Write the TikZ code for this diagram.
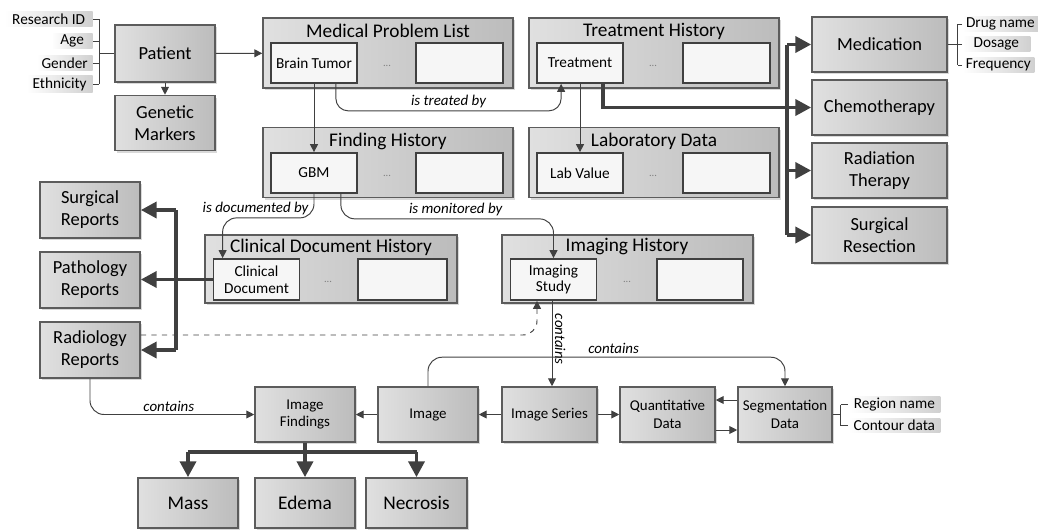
\documentclass[tikz,border=0pt]{standalone}
\usepackage{fontspec}
\setmainfont{Carlito}
\usepackage{xcolor}
\usepackage{tikz}
\usetikzlibrary{
  arrows.meta,
  positioning,
  calc,
  shadows
}
\definecolor{boxgray}{RGB}{188,188,188}
\definecolor{boxlight}{RGB}{224,224,224}
\definecolor{linegray}{RGB}{64,64,64}
\definecolor{edgegray}{RGB}{92,92,92}
\definecolor{attrgray}{RGB}{208,208,208}

\begin{document}
\begin{tikzpicture}[
  x=0.02cm, y=-0.02cm,
  entity/.style={rectangle, draw=edgegray, line width=0.9pt, left color=boxlight, right color=boxgray, drop shadow={opacity=0.3, shadow xshift=1.2pt, shadow yshift=-1.2pt}, align=center, font=\fontsize{10.5}{12.5}\selectfont, inner sep=1pt},
  lowentity/.style={entity, font=\fontsize{8.5}{10}\selectfont, minimum height=1.1cm},
  history/.style={entity, minimum width=5cm, minimum height=1.4cm},
  histtitle/.style={font=\fontsize{11}{12}\selectfont, inner sep=0pt},
  entrybox/.style={rectangle, draw=linegray, line width=1pt, fill=white!93!gray, minimum width=1.72cm, minimum height=0.8cm, align=center, font=\fontsize{8.7}{9.6}\selectfont, inner sep=1pt},
  ellip/.style={font=\fontsize{6}{6}\selectfont, text=gray, inner sep=0pt},
  attr/.style={rectangle, left color=white, right color=attrgray, font=\fontsize{8.7}{9.5}\selectfont, inner xsep=2pt, inner ysep=1pt, minimum height=0.27cm},
  rel/.style={font=\fontsize{8.5}{9.5}\selectfont\itshape, inner sep=1.5pt},
  link/.style={draw=linegray, line width=0.55pt, -{Triangle[length=4.5pt,width=4.5pt]}},
  bracket/.style={draw=linegray, line width=0.55pt},
  thickline/.style={draw=linegray, line width=2.2pt},
  thickarrow/.style={thickline, -{Triangle[length=9pt,width=9pt]}}
]
  \useasboundingbox (0,0) rectangle (1038,531);

  % patient and its attributes
  \node[entity, minimum width=2cm, minimum height=1.14cm] (patient) at (165,53.5) {Patient};
  \node[entity, minimum width=2cm, minimum height=1.1cm] (genetic) at (165,123) {Genetic\\Markers};
  \node[attr, anchor=east, minimum width=1.76cm, align=right] (rid) at (93,19) {Research ID};
  \node[attr, anchor=east, minimum width=0.82cm, align=right] (age) at (93,41) {\hfill Age};
  \node[attr, anchor=east, minimum width=1.12cm] (gender) at (93,63) {\hfill Gender};
  \node[attr, anchor=east, minimum width=1.32cm] (eth) at (93,84) {\hfill Ethnicity};
  \coordinate (pjoin) at ([xshift=-0.3cm]patient.west);
  \foreach \t in {rid,age,gender,eth}
    \draw[bracket] (\t.east) -- (\t.east -| pjoin);
  \draw[bracket] (rid.east -| pjoin) -- (eth.east -| pjoin);
  \draw[bracket, line width=1pt] (pjoin) -- (patient.west);

  % history containers
  \node[history] (mpl) at (388,53) {};
  \node[histtitle] (mpltitle) at (388,31) {Medical Problem List};
  \node[entrybox] (bt) at (314,63) {Brain Tumor};
  \node[ellip] (mpldots) at (387,66) {...};
  \node[entrybox, minimum width=1.74cm] (mplmore) at (459.5,63) {};

  \node[history] (th) at (654,53) {};
  \node[histtitle] (thtitle) at (654,31) {Treatment History};
  \node[entrybox] (trt) at (580,63) {Treatment};
  \node[ellip] (thdots) at (653,66) {...};
  \node[entrybox, minimum width=1.74cm] (thmore) at (726.5,63) {};

  \node[history] (fh) at (388,162.5) {};
  \node[histtitle] (fhtitle) at (388,141) {Finding History};
  \node[entrybox] (gbm) at (314,173) {GBM};
  \node[ellip] (fhdots) at (387,176) {...};
  \node[entrybox, minimum width=1.74cm] (fhmore) at (459.5,173) {};

  \node[history] (lab) at (654,162.5) {};
  \node[histtitle] (labtitle) at (654,141) {Laboratory Data};
  \node[entrybox] (labv) at (580,173) {Lab Value};
  \node[ellip] (labdots) at (653,176) {...};
  \node[entrybox, minimum width=1.74cm] (labmore) at (726.5,173) {};

  \node[history, minimum width=5.04cm, minimum height=1.36cm] (cdh) at (331,269) {};
  \node[histtitle] (cdhtitle) at (331,247) {Clinical Document History};
  \node[entrybox, minimum height=0.82cm] (cd) at (256.5,279.5) {Clinical\\Document};
  \node[ellip] (cdhdots) at (328,282) {...};
  \node[entrybox, minimum width=1.78cm, minimum height=0.82cm] (cdhmore) at (402.5,279.5) {};

  \node[history, minimum width=5.02cm, minimum height=1.36cm] (ih) at (627.5,269) {};
  \node[histtitle] (ihtitle) at (627,247) {Imaging History};
  \node[entrybox, minimum height=0.82cm] (ims) at (553.5,279.5) {Imaging\\Study};
  \node[ellip] (ihdots) at (627,282) {...};
  \node[entrybox, minimum width=1.72cm, minimum height=0.82cm] (ihmore) at (700,279.5) {};

  % treatments
  \node[entity, minimum width=2.7cm, minimum height=1.1cm] (med) at (879.5,44.5) {Medication};
  \node[entity, minimum width=2.7cm, minimum height=1.1cm] (chemo) at (879.5,107.5) {Chemotherapy};
  \node[entity, minimum width=2.7cm, minimum height=1.1cm] (radt) at (879.5,170.5) {Radiation\\Therapy};
  \node[entity, minimum width=2.7cm, minimum height=1.12cm] (sres) at (879.5,235) {Surgical\\Resection};
  \node[attr, anchor=west, minimum width=1.52cm, align=left] (drug) at (962,24) {Drug name};
  \node[attr, anchor=west, minimum width=1.36cm, align=left] (dose) at (962,44) {Dosage\hfill};
  \node[attr, anchor=west, minimum width=1.44cm, align=left] (freq) at (962,65) {Frequency\hfill};
  \coordinate (mjoin) at ([xshift=0.2cm]med.east);
  \foreach \t in {drug,dose,freq}
    \draw[bracket] (\t.west) -- (\t.west -| mjoin);
  \draw[bracket] (drug.west -| mjoin) -- (freq.west -| mjoin);
  \draw[bracket] (mjoin) -- (med.east);

  % reports
  \node[entity, minimum width=2cm, minimum height=1.12cm] (surg) at (90,210) {Surgical\\Reports};
  \node[entity, minimum width=2cm, minimum height=1.12cm] (patho) at (90,280) {Pathology\\Reports};
  \node[entity, minimum width=2cm, minimum height=1.12cm] (radr) at (90,350) {Radiology\\Reports};

  % image data
  \node[lowentity, minimum width=2cm] (imf) at (305,414.5) {Image\\Findings};
  \node[lowentity, minimum width=2cm] (img) at (428,414.5) {Image};
  \node[lowentity, minimum width=1.9cm] (iser) at (549.5,414.5) {Image Series};
  \node[lowentity, minimum width=1.9cm] (qd) at (667.5,414.5) {Quantitative\\Data};
  \node[lowentity, minimum width=1.88cm] (seg) at (785,414.5) {Segmentation\\Data};
  \node[attr, anchor=west, minimum width=1.84cm, align=left] (region) at (848,404.5) {Region name\hfill};
  \node[attr, anchor=west, minimum width=1.84cm, align=left] (contour) at (848,425.5) {Contour data\hfill};
  \coordinate (sjoin) at ([xshift=0.16cm]seg.east);
  \foreach \t in {region,contour}
    \draw[bracket] (\t.west) -- (\t.west -| sjoin);
  \draw[bracket] (region.west -| sjoin) -- (contour.west -| sjoin);
  \draw[bracket, line width=1pt] (sjoin) -- (seg.east);

  \node[entity, minimum width=2cm, minimum height=1cm, font=\fontsize{11}{12}\selectfont] (mass) at (188,503) {Mass};
  \node[entity, minimum width=2cm, minimum height=1cm, font=\fontsize{11}{12}\selectfont] (edema) at (305,503) {Edema};
  \node[entity, minimum width=2.02cm, minimum height=1cm, font=\fontsize{11}{12}\selectfont] (necr) at (416.5,503) {Necrosis};

  % thin connectors
  \draw[link] (patient) -- (mpl);
  \draw[link] (patient) -- (genetic);
  \draw[link] (bt) -- (gbm);
  \draw[link] (trt) -- (labv);
  \draw[link, rounded corners=7pt] ([xshift=-0.44cm]bt.south east) |- ([xshift=0.5cm,yshift=-0.54cm]trt.south west) node[rel, pos=0.75, above] {is treated by} -- ([xshift=0.5cm]trt.south west);
  \draw[link, rounded corners=8pt] (gbm.south) -- ++(0,24) -| ([xshift=0.2cm]cd.north west) node[rel, pos=0.32, above] {is documented by};
  \draw[link, rounded corners=8pt] ([xshift=-0.34cm]gbm.south east) -- ++(0,25) -| (ims.north) node[rel, pos=0.27, above] {is monitored by};
  \draw[link, dashed, rounded corners=8pt] ([yshift=0.3cm]radr.east) -| ([xshift=-0.33cm]ims.south);
  \draw[link] ([xshift=-0.03cm]ims.south) -- ([xshift=-0.03cm]ims.south |- iser.north) node[rel, pos=0.45, rotate=-90, anchor=south] {contains};
  \draw[link, rounded corners=8pt] (img.north) -- ++(0,-29) -| (seg.north) node[rel, pos=0.26, above] {contains};
  \draw[link, rounded corners=8pt] (radr.south) |- (imf.west) node[rel, pos=0.74, above] {contains};
  \draw[link] (iser) -- (img);
  \draw[link] (img) -- (imf);
  \draw[link] (iser) -- (qd);
  \draw[link] ([yshift=0.29cm]seg.west) -- ([yshift=0.29cm]qd.east);
  \draw[link] ([yshift=-0.31cm]qd.east) -- ([yshift=-0.31cm]seg.west);

  % thick connectors
  \draw[thickarrow] ([xshift=-0.42cm]trt.south east) |- (chemo.west);
  \draw[thickline] ([xshift=-0.48cm]med.west) -- ([xshift=-0.48cm]sres.west);
  \foreach \n in {med,radt,sres}
    \draw[thickarrow] ([xshift=-0.48cm]\n.west) -- (\n.west);
  \draw[thickarrow] (cd.west) -- (cd.west -| patho.east);
  \draw[thickline] ([xshift=0.7cm]surg.east) -- ([xshift=0.7cm]radr.east);
  \foreach \n in {surg,radr}
    \draw[thickarrow] ([xshift=0.7cm]\n.east) -- (\n.east);
  \draw[thickline] (imf.south) -- ([yshift=0.5cm]edema.north);
  \draw[thickline] ([yshift=0.5cm]mass.north) -- ([yshift=0.5cm]necr.north);
  \foreach \n in {mass,edema,necr}
    \draw[thickarrow] ([yshift=0.5cm]\n.north) -- (\n.north);
\end{tikzpicture}
\end{document}
